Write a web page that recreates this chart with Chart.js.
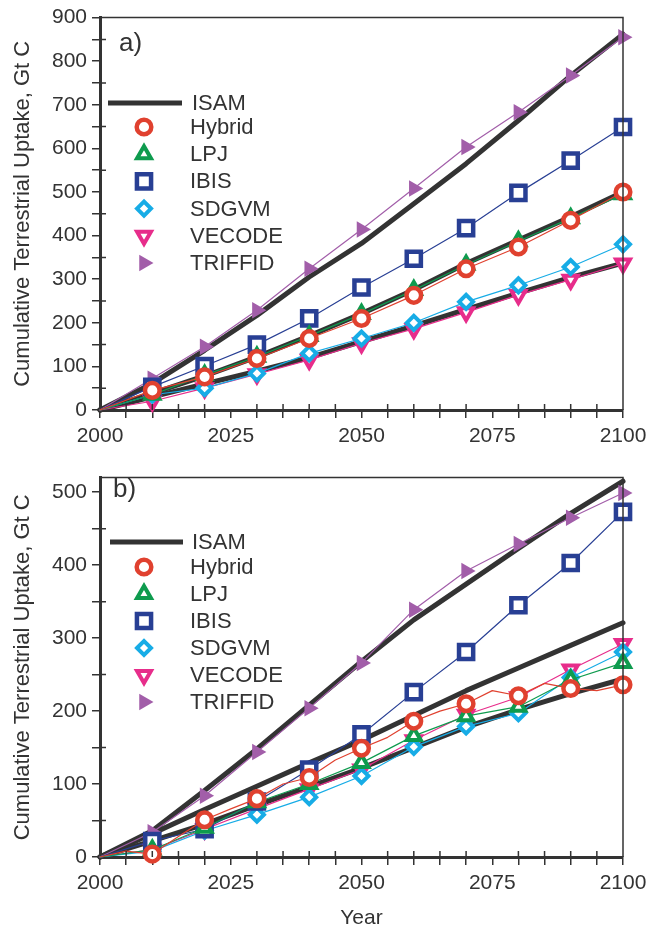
<!DOCTYPE html>
<html>
<head>
<meta charset="utf-8">
<script src="https://cdn.jsdelivr.net/npm/chart.js@4.4.0/dist/chart.umd.min.js"></script>
<style>
  body { margin: 0; background: #fff; }
  #wrap { position: relative; width: 668px; height: 931px; }
  canvas { position: absolute; left: 0; }
  #chartA { top: 0; }
  #chartB { top: 460px; }
</style>
</head>
<body>
<div id="wrap">
  <canvas id="chartA" width="668" height="460"></canvas>
  <canvas id="chartB" width="668" height="471"></canvas>
</div>
<script>
// years with markers, and 5-yearly years for the wiggly Hybrid run in panel b
var years = [2000, 2010, 2020, 2030, 2040, 2050, 2060, 2070, 2080, 2090, 2100];
var years5 = [2000, 2005, 2010, 2015, 2020, 2025, 2030, 2035, 2040, 2045, 2050,
              2055, 2060, 2065, 2070, 2075, 2080, 2085, 2090, 2095, 2100];

var xLabels = [2000, 2025, 2050, 2075, 2100];
var yLabelsA = [0, 100, 200, 300, 400, 500, 600, 700, 800, 900];
var yLabelsB = [0, 100, 200, 300, 400, 500];

// panel a) - Gt C
var isamHiA  = [0, 61, 137, 217, 305, 382, 473, 565, 664, 767, 862];
var isamMidA = [0, 38, 78, 122, 170, 221, 276, 336, 390, 443, 500];
var isamLoA  = [0, 30, 60, 89, 120, 157, 193, 231, 268, 304, 337];
var hybridA  = [0, 45, 76, 118, 164, 210, 263, 324, 374, 435, 500];
var lpjA     = [0, 35, 80, 122, 170, 220, 275, 333, 387, 440, 495];
var ibisA    = [0, 53, 101, 150, 210, 281, 347, 417, 498, 572, 649];
var sdgvmA   = [0, 35, 50, 84, 130, 164, 200, 248, 286, 328, 380];
var vecodeA  = [0, 20, 50, 82, 115, 153, 186, 224, 264, 299, 336];
var triffidA = [0, 72, 145, 229, 324, 414, 508, 603, 683, 767, 855];

// panel b) - Gt C
var isamHiB  = [0, 36, 91, 148, 208, 268, 325, 374, 423, 471, 515];
var isamMidB = [0, 32, 65, 97, 129, 160, 194, 228, 259, 290, 321];
var isamLoB  = [0, 22, 45, 71, 96, 122, 150, 178, 202, 224, 244];
var hybridB  = [0, 8, 4, 28, 51, 66, 80, 100, 109, 133, 149, 164, 186, 200, 210, 228, 221, 238, 231, 228, 236];
var lpjB     = [0, 10, 40, 75, 100, 129, 166, 193, 206, 243, 266];
var ibisB    = [0, 22, 38, 76, 120, 168, 226, 281, 345, 403, 473];
var sdgvmB   = [0, 8, 36, 58, 82, 111, 151, 179, 197, 246, 281];
var vecodeB  = [0, 10, 38, 66, 93, 120, 160, 195, 219, 257, 292];
var triffidB = [0, 34, 84, 144, 204, 266, 339, 392, 429, 465, 499];

var FONT = '"Liberation Sans", Arial, Helvetica, sans-serif';
var INK = '#333333';

function pts(xs, ys) {
    return xs.map(function (x, i) { return { x: x, y: ys[i] }; });
}

// marker only every 10 years, not at the start
function markerRadius(c) {
    var x = c.raw ? c.raw.x : 0;
    return (x > 2000 && x % 10 === 0) ? c.dataset.markerSize : 0;
}

function model(label, xs, ys, color, style, size, rot, fill, bw) {
    return {
        label: label,
        data: pts(xs, ys),
        borderColor: color,
        borderWidth: 1.2,
        pointStyle: style,
        pointRotation: rot,
        markerSize: size,
        pointRadius: markerRadius,
        pointBorderColor: color,
        pointBackgroundColor: fill,
        pointBorderWidth: bw,
        clip: false,
        inLegend: true
    };
}

function isam(ys, first) {
    return {
        label: 'ISAM',
        data: pts(years, ys),
        borderColor: INK,
        borderWidth: 5,
        pointRadius: 0,
        clip: false,
        inLegend: first,
        isLine: true
    };
}

function datasets(h, l, i, s, v, t, hiY, midY, loY, hybridYears) {
    return [
        model('Hybrid', hybridYears, h, '#e0412f', 'circle', 7.3, 0, '#fff', 4.5),
        model('LPJ', years, l, '#0e9b4e', 'triangle', 8, 0, '#fff', 4),
        model('IBIS', years, i, '#283f94', 'rect', 10, 0, '#fff', 4.5),
        model('SDGVM', years, s, '#17ace6', 'rectRot', 7, 0, '#fff', 4),
        model('VECODE', years, v, '#e72d8b', 'triangle', 8, 180, '#fff', 4),
        model('TRIFFID', years, t, '#a25ea9', 'triangle', 6.5, 90, '#a25ea9', 3),
        isam(hiY, true),
        isam(midY, false),
        isam(loY, false)
    ];
}

// top/right frame lines and small inward minor ticks
var framePlugin = {
    id: 'frame',
    afterDraw: function (chart) {
        var ctx = chart.ctx, a = chart.chartArea;
        ctx.save();
        ctx.strokeStyle = INK;
        ctx.lineWidth = 1.5;
        ctx.beginPath();
        ctx.moveTo(a.left, a.top);
        ctx.lineTo(a.right, a.top);
        ctx.lineTo(a.right, a.bottom);
        ctx.stroke();
        var xs = chart.scales.x, ys = chart.scales.y;
        ctx.beginPath();
        xs.ticks.forEach(function (t) {
            if (t.value % 25 !== 0) {
                var px = xs.getPixelForValue(t.value);
                ctx.moveTo(px, a.bottom);
                ctx.lineTo(px, a.bottom - 6);
            }
        });
        ys.ticks.forEach(function (t) {
            if (t.value % 100 !== 0) {
                var py = ys.getPixelForValue(t.value);
                ctx.moveTo(a.left, py);
                ctx.lineTo(a.left + 6, py);
            }
        });
        ctx.stroke();
        ctx.restore();
    }
};

// legend inside the plot, drawn from the datasets' own styles
var legendPlugin = {
    id: 'panelLegend',
    afterDraw: function (chart, args, o) {
        var ctx = chart.ctx;
        ctx.save();
        ctx.font = '22px ' + FONT;
        ctx.textBaseline = 'middle';
        ctx.textAlign = 'left';
        var items = chart.data.datasets.filter(function (d) { return d.inLegend; });
        var line = items.filter(function (d) { return d.isLine; })[0];
        ctx.strokeStyle = line.borderColor;
        ctx.lineWidth = line.borderWidth;
        ctx.beginPath();
        ctx.moveTo(o.lineX0, o.lineY);
        ctx.lineTo(o.lineX1, o.lineY);
        ctx.stroke();
        ctx.fillStyle = INK;
        ctx.fillText(line.label, o.textX, o.lineY + 1);
        var row = 0;
        items.forEach(function (d) {
            if (d.isLine) return;
            var y = o.rowY + row * o.dy;
            ctx.fillStyle = d.pointBackgroundColor;
            ctx.strokeStyle = d.pointBorderColor;
            ctx.lineWidth = d.pointBorderWidth;
            Chart.helpers.drawPoint(ctx, {
                pointStyle: d.pointStyle,
                rotation: d.pointRotation,
                radius: d.markerSize,
                borderWidth: d.pointBorderWidth
            }, o.markX, y);
            ctx.fillStyle = INK;
            ctx.fillText(d.label, o.textX - 2, y + 1);
            row++;
        });
        ctx.restore();
    }
};

var panelLabel = {
    id: 'panelLabel',
    afterDraw: function (chart, args, o) {
        var ctx = chart.ctx;
        ctx.save();
        ctx.font = '26px ' + FONT;
        ctx.fillStyle = INK;
        ctx.textBaseline = 'middle';
        ctx.fillText(o.text, o.x, o.y);
        ctx.restore();
    }
};

function buildChart(id, ds, yMax, yLabels, pad, xHeight, showYear, legendOpts, labelOpts) {
    return new Chart(document.getElementById(id), {
        type: 'line',
        data: { datasets: ds },
        plugins: [framePlugin, legendPlugin, panelLabel],
        options: {
            responsive: false,
            animation: false,
            events: [],
            layout: { padding: pad },
            elements: { line: { tension: 0, borderJoinStyle: 'round', borderCapStyle: 'round' } },
            plugins: {
                legend: { display: false },
                tooltip: { enabled: false },
                panelLegend: legendOpts,
                panelLabel: labelOpts
            },
            scales: {
                x: {
                    type: 'linear',
                    min: 2000,
                    max: 2100,
                    border: { display: true, color: INK, width: 3 },
                    grid: { display: true, drawOnChartArea: false, drawTicks: true, tickLength: 8, color: INK, lineWidth: 1.5 },
                    ticks: {
                        stepSize: 5,
                        autoSkip: false,
                        maxRotation: 0,
                        padding: 6,
                        color: INK,
                        font: { family: FONT, size: 21 },
                        callback: function (v) { return xLabels.indexOf(v) >= 0 ? String(v) : ''; }
                    },
                    title: {
                        display: showYear,
                        text: 'Year',
                        color: INK,
                        font: { family: FONT, size: 21 },
                        padding: { top: 0, bottom: 0 }
                    },
                    afterFit: function (s) { s.height = xHeight; }
                },
                y: {
                    min: 0,
                    max: yMax,
                    border: { display: true, color: INK, width: 3 },
                    grid: { display: true, drawOnChartArea: false, drawTicks: true, tickLength: 8, color: INK, lineWidth: 1.5 },
                    ticks: {
                        stepSize: 50,
                        includeBounds: false,
                        autoSkip: false,
                        padding: 5,
                        color: INK,
                        font: { family: FONT, size: 21 },
                        callback: function (v) { return yLabels.indexOf(v) >= 0 ? String(v) : ''; }
                    },
                    afterBuildTicks: function (s) {
                        s.ticks = s.ticks.filter(function (t) { return t.value % 50 === 0; });
                    },
                    title: {
                        display: true,
                        text: 'Cumulative Terrestrial Uptake, Gt C',
                        color: INK,
                        font: { family: FONT, size: 22 },
                        padding: { top: 10, bottom: 0 }
                    },
                    afterFit: function (s) { s.width = 100; }
                }
            }
        }
    });
}

buildChart('chartA',
    datasets(hybridA, lpjA, ibisA, sdgvmA, vecodeA, triffidA, isamHiA, isamMidA, isamLoA, years),
    900, yLabelsA, { top: 17, right: 45, left: 0, bottom: 0 }, 50, false,
    { lineX0: 108, lineX1: 182, lineY: 103, textX: 192, markX: 144, rowY: 127, dy: 27.2 },
    { text: 'a)', x: 119, y: 44 });

buildChart('chartB',
    datasets(hybridB, lpjB, ibisB, sdgvmB, vecodeB, triffidB, isamHiB, isamMidB, isamLoB, years5),
    520, yLabelsB, { top: 5, right: 45, left: 0, bottom: 0 }, 74, true,
    { lineX0: 110, lineX1: 183, lineY: 82, textX: 192, markX: 144, rowY: 107, dy: 27 },
    { text: 'b)', x: 113, y: 30 });
</script>
</body>
</html>
